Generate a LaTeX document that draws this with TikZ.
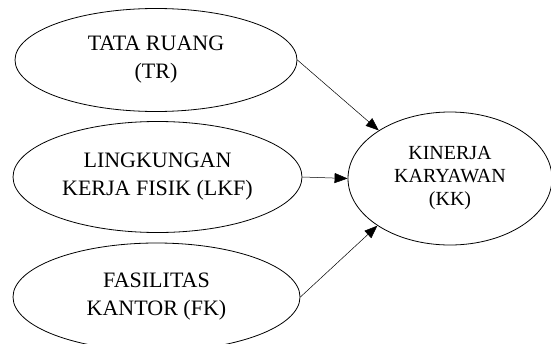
\documentclass[tikz,border=0pt]{standalone}
\usepackage{fontspec}
\setmainfont{Liberation Serif}
\usetikzlibrary{shapes.geometric,arrows.meta}
\begin{document}
\begin{tikzpicture}[x=1pt,y=-1pt,
  oval/.style={draw, ellipse, line width=0.8pt, inner sep=0pt, align=center,
    font=\fontsize{22}{28}\selectfont},
  link/.style={line width=0.5pt, -{Triangle[length=13pt,width=10pt]}}]
\useasboundingbox (0,0) rectangle (551,343);
\node[oval, minimum width=282pt, minimum height=103pt] (TR) at (156,60) {TATA RUANG\\(TR)};
\node[oval, minimum width=289pt, minimum height=111pt] (LKF) at (157.5,177) {LINGKUNGAN\\KERJA FISIK (LKF)};
\node[oval, minimum width=287pt, minimum height=108pt] (FK) at (156.5,297) {FASILITAS\\KANTOR (FK)};
\node[oval, minimum width=204pt, minimum height=133pt, font=\fontsize{20}{23}\selectfont] (KK) at (450,178.5) {KINERJA\\KARYAWAN\\(KK)};
\draw[link] (TR.east) -- (KK.146);
\draw[link] (LKF.east) -- (KK.west);
\draw[link] (FK.east) -- (KK.213);
\end{tikzpicture}
\end{document}
